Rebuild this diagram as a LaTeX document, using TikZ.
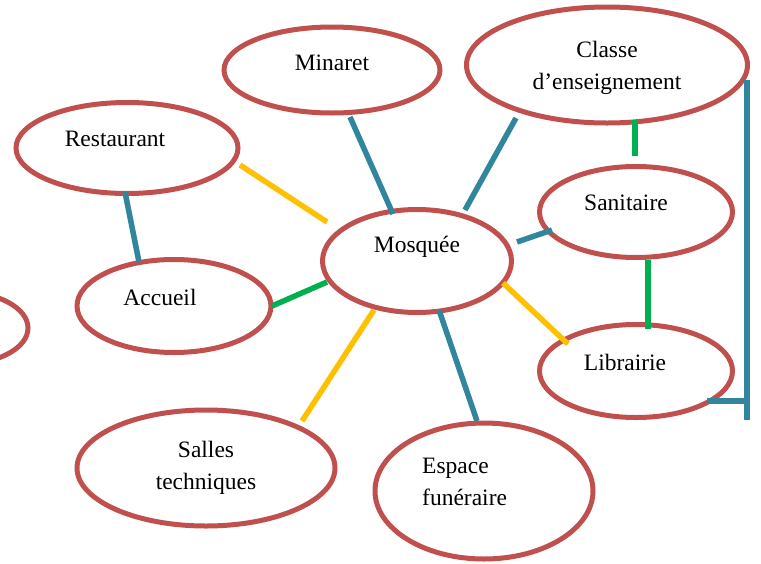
\documentclass[tikz,border=0pt]{standalone}
\usepackage{fontspec}
\setmainfont{Liberation Serif}
\usetikzlibrary{shapes.geometric}
\definecolor{ered}{HTML}{C0504D}
\definecolor{eteal}{HTML}{31859C}
\definecolor{eyel}{HTML}{FFC000}
\definecolor{egrn}{HTML}{00B050}
\begin{document}
\begin{tikzpicture}[x=1pt,y=-1pt,
  bub/.style={ellipse,draw=ered,line width=5pt,inner sep=0pt},
  lbl/.style={font=\fontsize{23.5}{32}\selectfont,inner sep=0pt},
  tl/.style={draw=eteal,line width=5.5pt},
  yl/.style={draw=eyel,line width=5.5pt},
  gl/.style={draw=egrn,line width=5.5pt}]
\useasboundingbox (0,0) rectangle (761,563);
\begin{scope}
\clip (0,0) rectangle (761,563);
% ellipses
\node[bub,minimum width=216pt,minimum height=86pt] (min) at (332,70) {};
\node[bub,minimum width=281pt,minimum height=116pt] (cls) at (607,65) {};
\node[bub,minimum width=222pt,minimum height=91pt] (res) at (127,148) {};
\node[bub,minimum width=189pt,minimum height=103pt] (mos) at (417,261) {};
\node[bub,minimum width=193pt,minimum height=91pt] (san) at (636,212) {};
\node[bub,minimum width=194pt,minimum height=93pt] (acc) at (174,306) {};
\node[bub,minimum width=132pt,minimum height=72pt] (lft) at (-38,328) {};
\node[bub,minimum width=193pt,minimum height=93pt] (lib) at (636,371) {};
\node[bub,minimum width=258pt,minimum height=116pt] (sal) at (206,468) {};
\node[bub,minimum width=218pt,minimum height=136pt] (esp) at (484,491) {};
\end{scope}
% texts
\node[lbl,anchor=base] (tmin) at (332,70) {Minaret};
\node[lbl,align=center] (tcls) at (607,68) {Classe\\d’enseignement};
\node[lbl,anchor=base] (tres) at (115,146) {Restaurant};
\node[lbl,anchor=base] (tmos) at (417,252) {Mosquée};
\node[lbl,anchor=base] (tsan) at (626,210) {Sanitaire};
\node[lbl,anchor=base] (tacc) at (160,305) {Accueil};
\node[lbl,anchor=base] (tlib) at (625,370) {Librairie};
\node[lbl,align=center] (tsal) at (206,468) {Salles\\techniques};
\node[lbl,align=left,anchor=west] (tesp) at (422,482) {Espace\\funéraire};
% connector end points
\coordinate (a1) at (350,117); \coordinate (a2) at (393,214);
\coordinate (b1) at (516,118); \coordinate (b2) at (465,210);
\coordinate (c1) at (240,165); \coordinate (c2) at (327,222);
\coordinate (d1) at (125,192); \coordinate (d2) at (139,262);
\coordinate (e1) at (272,306); \coordinate (e2) at (327,282);
\coordinate (f1) at (517,242); \coordinate (f2) at (552,230);
\coordinate (g1) at (635,120); \coordinate (g2) at (635,156);
\coordinate (h1) at (648,260); \coordinate (h2) at (648,329);
\coordinate (i1) at (503,283); \coordinate (i2) at (568,344);
\coordinate (j1) at (374,310); \coordinate (j2) at (302,421);
\coordinate (k1) at (439,310); \coordinate (k2) at (477,421);
\coordinate (br1) at (747,80); \coordinate (br2) at (747,420);
\coordinate (br3) at (707,401); \coordinate (br4) at (747,401);
% connectors
\draw[tl] (a1) -- (a2);
\draw[tl] (b1) -- (b2);
\draw[yl] (c1) -- (c2);
\draw[tl] (d1) -- (d2);
\draw[gl] (e1) -- (e2);
\draw[tl] (f1) -- (f2);
\draw[gl] (g1) -- (g2);
\draw[gl] (h1) -- (h2);
\draw[yl] (i1) -- (i2);
\draw[yl] (j1) -- (j2);
\draw[tl] (k1) -- (k2);
\draw[tl] (br1) -- (br2);
\draw[tl] (br3) -- (br4);
\end{tikzpicture}
\end{document}
